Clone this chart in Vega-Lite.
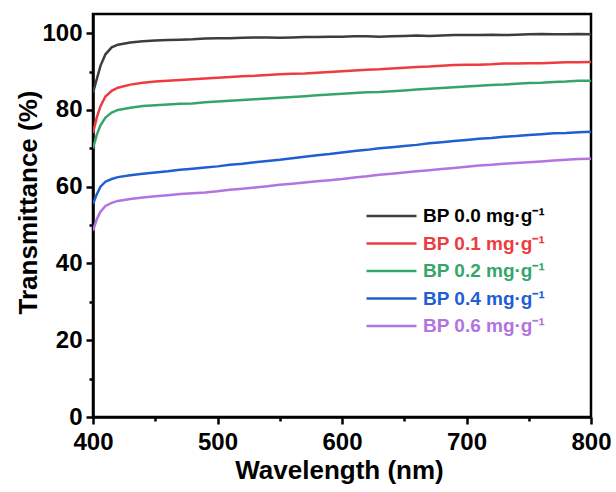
{
  "$schema": "https://vega.github.io/schema/vega-lite/v6.json",
  "autosize": "none",
  "width": 498,
  "height": 403,
  "padding": {"left": 93, "top": 14, "right": 25, "bottom": 75},
  "background": "white",
  "config": {
    "font": "Liberation Sans",
    "view": {"stroke": "black", "strokeWidth": 2.5},
    "axis": {
      "domainColor": "black", "domainWidth": 2.5, "tickColor": "black", "tickWidth": 2.5,
      "labelFont": "Liberation Sans", "labelFontWeight": "bold", "labelFontSize": 24, "labelColor": "black",
      "labelFlush": false,
      "titleFont": "Liberation Sans", "titleFontWeight": "bold", "titleFontSize": 26, "titleColor": "black",
      "grid": false
    }
  },
  "data": {"values": [
    {"wl": 400, "a": 84.5, "b": 74.0, "c": 70.0, "d": 55.5, "e": 48.5},
    {"wl": 403, "a": 88.0, "b": 78.0, "c": 73.5, "d": 58.0, "e": 51.5},
    {"wl": 406, "a": 91.5, "b": 81.0, "c": 76.0, "d": 60.0, "e": 53.5},
    {"wl": 410, "a": 94.5, "b": 83.5, "c": 78.0, "d": 61.3, "e": 55.0},
    {"wl": 415, "a": 96.3, "b": 85.0, "c": 79.3, "d": 62.0, "e": 55.8},
    {"wl": 420, "a": 97.0, "b": 85.8, "c": 80.0, "d": 62.5, "e": 56.3},
    {"wl": 430, "a": 97.6, "b": 86.6, "c": 80.6, "d": 63.0, "e": 56.8},
    {"wl": 440, "a": 97.9, "b": 87.1, "c": 81.0, "d": 63.4, "e": 57.2},
    {"wl": 450, "a": 98.1, "b": 87.4, "c": 81.2, "d": 63.7, "e": 57.5},
    {"wl": 460, "a": 98.2, "b": 87.6, "c": 81.4, "d": 64.0, "e": 57.8},
    {"wl": 470, "a": 98.3, "b": 87.8, "c": 81.6, "d": 64.4, "e": 58.1},
    {"wl": 480, "a": 98.4, "b": 88.0, "c": 81.7, "d": 64.7, "e": 58.3},
    {"wl": 490, "a": 98.6, "b": 88.2, "c": 82.0, "d": 65.0, "e": 58.5},
    {"wl": 500, "a": 98.7, "b": 88.4, "c": 82.2, "d": 65.3, "e": 58.8},
    {"wl": 510, "a": 98.7, "b": 88.6, "c": 82.4, "d": 65.7, "e": 59.2},
    {"wl": 520, "a": 98.8, "b": 88.8, "c": 82.6, "d": 66.0, "e": 59.5},
    {"wl": 530, "a": 98.9, "b": 88.9, "c": 82.8, "d": 66.4, "e": 59.8},
    {"wl": 540, "a": 98.9, "b": 89.1, "c": 83.0, "d": 66.7, "e": 60.1},
    {"wl": 550, "a": 98.8, "b": 89.3, "c": 83.2, "d": 67.0, "e": 60.5},
    {"wl": 560, "a": 98.9, "b": 89.4, "c": 83.4, "d": 67.4, "e": 60.8},
    {"wl": 570, "a": 99.0, "b": 89.5, "c": 83.6, "d": 67.8, "e": 61.1},
    {"wl": 580, "a": 99.0, "b": 89.7, "c": 83.8, "d": 68.2, "e": 61.4},
    {"wl": 590, "a": 99.1, "b": 89.9, "c": 84.0, "d": 68.5, "e": 61.7},
    {"wl": 600, "a": 99.1, "b": 90.1, "c": 84.2, "d": 68.9, "e": 62.0},
    {"wl": 610, "a": 99.2, "b": 90.3, "c": 84.4, "d": 69.3, "e": 62.4},
    {"wl": 620, "a": 99.2, "b": 90.5, "c": 84.6, "d": 69.6, "e": 62.7},
    {"wl": 630, "a": 99.1, "b": 90.6, "c": 84.7, "d": 70.0, "e": 63.1},
    {"wl": 640, "a": 99.2, "b": 90.8, "c": 84.9, "d": 70.3, "e": 63.4},
    {"wl": 650, "a": 99.3, "b": 91.0, "c": 85.1, "d": 70.6, "e": 63.7},
    {"wl": 660, "a": 99.4, "b": 91.2, "c": 85.3, "d": 70.9, "e": 64.0},
    {"wl": 670, "a": 99.3, "b": 91.3, "c": 85.5, "d": 71.3, "e": 64.3},
    {"wl": 680, "a": 99.4, "b": 91.5, "c": 85.7, "d": 71.6, "e": 64.6},
    {"wl": 690, "a": 99.5, "b": 91.7, "c": 85.9, "d": 71.9, "e": 64.9},
    {"wl": 700, "a": 99.5, "b": 91.8, "c": 86.1, "d": 72.2, "e": 65.2},
    {"wl": 710, "a": 99.5, "b": 91.8, "c": 86.3, "d": 72.5, "e": 65.5},
    {"wl": 720, "a": 99.6, "b": 91.9, "c": 86.5, "d": 72.7, "e": 65.7},
    {"wl": 730, "a": 99.5, "b": 92.1, "c": 86.6, "d": 73.0, "e": 66.0},
    {"wl": 740, "a": 99.6, "b": 92.1, "c": 86.8, "d": 73.2, "e": 66.2},
    {"wl": 750, "a": 99.7, "b": 92.2, "c": 87.0, "d": 73.5, "e": 66.4},
    {"wl": 760, "a": 99.8, "b": 92.2, "c": 87.1, "d": 73.7, "e": 66.6},
    {"wl": 770, "a": 99.7, "b": 92.3, "c": 87.3, "d": 73.9, "e": 66.8},
    {"wl": 780, "a": 99.7, "b": 92.4, "c": 87.4, "d": 74.0, "e": 67.0},
    {"wl": 790, "a": 99.8, "b": 92.4, "c": 87.6, "d": 74.2, "e": 67.2},
    {"wl": 800, "a": 99.7, "b": 92.5, "c": 87.6, "d": 74.3, "e": 67.3}
  ]},
  "transform": [{"fold": ["a", "b", "c", "d", "e"], "as": ["s", "t"]}],
  "mark": {"type": "line", "strokeWidth": 2.5, "clip": true},
  "encoding": {
    "x": {
      "field": "wl", "type": "quantitative",
      "scale": {"domain": [400, 800], "nice": false, "zero": false},
      "axis": {
        "title": "Wavelength (nm)",
        "values": [400, 450, 500, 550, 600, 650, 700, 750, 800],
        "labelExpr": "datum.value % 100 === 0 ? datum.label : ''",
        "tickSize": {"condition": {"test": "datum.value % 100 !== 0", "value": 4}, "value": 7},
        "labelPadding": 6,
        "titlePadding": 3,
        "titleX": 246
      }
    },
    "y": {
      "field": "t", "type": "quantitative",
      "scale": {"domain": [0, 105], "nice": false},
      "axis": {
        "title": "Transmittance (%)",
        "values": [0, 10, 20, 30, 40, 50, 60, 70, 80, 90, 100],
        "labelExpr": "datum.value % 20 === 0 ? datum.label : ''",
        "tickSize": {"condition": {"test": "datum.value % 20 !== 0", "value": 4}, "value": 7},
        "labelPadding": 4,
        "titlePadding": 0,
        "titleY": 188
      }
    },
    "color": {
      "field": "s", "type": "nominal",
      "scale": {"domain": ["a", "b", "c", "d", "e"], "range": ["#3d3d3d", "#ee3b3f", "#35a66b", "#1e5fd3", "#b174e0"]},
      "legend": {
        "title": null,
        "orient": "none",
        "legendX": 272,
        "legendY": 192,
        "symbolType": "stroke",
        "symbolSize": 2500,
        "symbolStrokeWidth": 2.5,
        "clipHeight": 20,
        "rowPadding": 7.5,
        "labelFont": "Liberation Sans",
        "labelFontSize": 19,
        "labelFontWeight": "bold",
        "labelOffset": 5,
        "labelExpr": "{'a': 'BP 0.0 mg·g⁻¹', 'b': 'BP 0.1 mg·g⁻¹', 'c': 'BP 0.2 mg·g⁻¹', 'd': 'BP 0.4 mg·g⁻¹', 'e': 'BP 0.6 mg·g⁻¹'}[datum.value]",
        "encode": {
          "labels": {"update": {"fill": [{"test": "datum.value === 'a'", "value": "black"}, {"scale": "color", "field": "value"}]}}
        }
      }
    }
  }
}
